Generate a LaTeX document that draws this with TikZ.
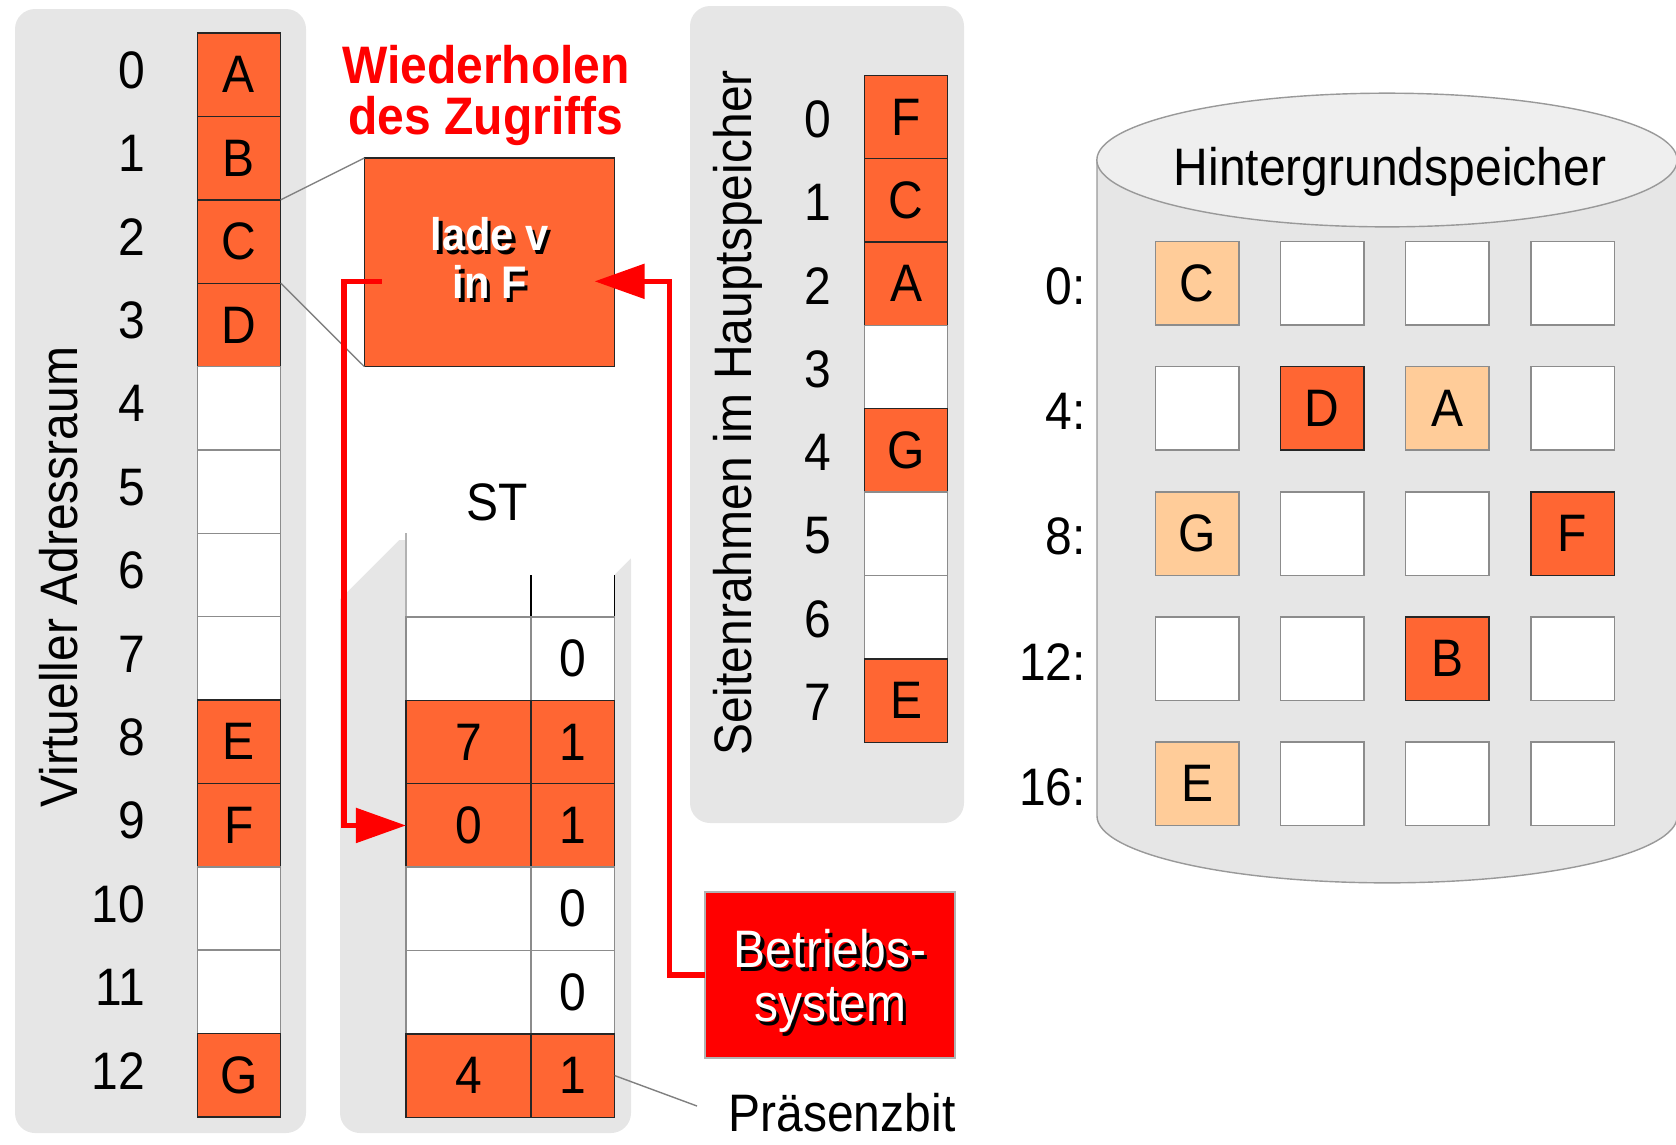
\documentclass[tikz,border=0pt]{standalone}
\usepackage{fontspec}
\setmainfont{Liberation Sans}[FakeStretch=0.91]
\usetikzlibrary{arrows.meta}
\definecolor{orng}{HTML}{FF6633}
\definecolor{lorng}{HTML}{FFCC99}
\definecolor{panelgray}{HTML}{E6E6E6}
\definecolor{topgray}{HTML}{EFEFEF}
\tikzset{every node/.style={inner sep=0pt,outer sep=0pt}}
\tikzset{cell/.style={rectangle,draw=black!45,fill=white,minimum width=8.34mm,minimum height=8.34mm}}
\tikzset{used/.style={cell,draw=black!85,fill=orng}}
\tikzset{disk/.style={cell,fill=lorng}}
\tikzset{panel/.style={fill=panelgray,rounded corners=2mm}}
\tikzset{leader/.style={draw=black!50,line width=0.4pt}}
\tikzset{redarrow/.style={draw=red,line width=1.5pt,-{Triangle[length=5mm,width=3.4mm]}}}
\tikzset{osbox/.style={rectangle,fill=red,draw=black!30,minimum width=2.5cm,minimum height=1.66cm,align=center}}
\newcommand{\shadowed}[1]{\makebox[0pt][l]{\hspace{0.35mm}\raisebox{-0.35mm}{\color{black}#1}}{\color{white}#1}}

\begin{document}
\begin{tikzpicture}[x=0.01cm,y=-0.01cm,font=\fontsize{15}{15.4}\selectfont]
\useasboundingbox (0,0) rectangle (1676,1144);
% panels
\fill[panel] (15,9) rectangle (306,1133);
\fill[panel] (340,540) rectangle (631,1133);
\fill[white] (330,609) -- (406,533) -- (406,617) -- (614,617) -- (614,575) -- (641,548) -- (641,520) -- (330,520) -- cycle;
\fill[panel] (690,6) rectangle (964,823);
% disk
\filldraw[fill=panelgray,draw=black!40] (1097,160) -- (1097,816) arc[start angle=180,end angle=360,x radius=2.9cm,y radius=0.668cm] -- (1677,160) -- cycle;
\filldraw[fill=topgray,draw=black!40] (1387,160) ellipse[x radius=2.9cm,y radius=0.668cm];

% virtueller Adressraum
\node[rotate=90] (va) at (59,577) {Virtueller Adressraum};
\foreach \p/\c/\s in {0/A/used,1/B/used,2/C/used,3/D/used,4/{}/cell,5/{}/cell,6/{}/cell,
    7/{}/cell,8/E/used,9/F/used,10/{}/cell,11/{}/cell,12/G/used} {
  \node[\s] (v\p) at (239,{74.8+83.37*\p}) {\c};
  \node[anchor=east] (vn\p) at (145,{70.3+83.37*\p}) {\p};
}

% Seitentabelle
\node (st) at (497,502) {ST};
\draw[black!30] (406,533) -- (406,617);
\draw (531,575) -- (531,617);
\draw (614.6,575) -- (614.6,617);
\foreach \r/\f/\b/\s in {0/{}/0/cell,1/7/1/used,2/0/1/used,3/{}/0/cell,4/{}/0/cell,5/4/1/used} {
  \node[\s,minimum width=1.25cm] (sa\r) at (468.5,{658.7+83.37*\r}) {\f};
  \node[\s,minimum width=8.36mm] (sb\r) at (572.8,{658.7+83.37*\r}) {\b};
}
\node (pr) at (842,1113) {Präsenzbit};
\coordinate (pb) at (697,1106);
\draw[leader] (sb5.east) -- (pb);

% Hauptspeicher
\node[rotate=90] (sr) at (738,413) {Seitenrahmen im Hauptspeicher};
\foreach \k/\c/\s in {0/F/used,1/C/used,2/A/used,3/{}/cell,4/G/used,5/{}/cell,6/{}/cell,7/E/used} {
  \node[\s] (m\k) at (906,{117+83.37*\k}) {\c};
  \node (mn\k) at (818,{119+83.37*\k}) {\k};
}

% Hintergrundspeicher
\node (hs) at (1390,172) {Hintergrundspeicher};
\foreach \row/\lbl in {0/0,1/4,2/8,3/12,4/16}
  \node[anchor=east] (hl\row) at (1086,{286.5+125.1*\row}) {\lbl:};
\foreach \row/\col/\s/\t in {0/0/disk/C,0/1/cell/{},0/2/cell/{},0/3/cell/{},
    1/0/cell/{},1/1/used/D,1/2/disk/A,1/3/cell/{},
    2/0/disk/G,2/1/cell/{},2/2/cell/{},2/3/used/F,
    3/0/cell/{},3/1/cell/{},3/2/used/B,3/3/cell/{},
    4/0/disk/E,4/1/cell/{},4/2/cell/{},4/3/cell/{}}
  \node[\s] (h\row\col) at ({1197.2+125.1*\col},{283.3+125.1*\row}) {\t};

% Seitenfehler
\node[text=red,font=\fontsize{15}{14.5}\selectfont\bfseries,align=center] (wz) at (486,95) {Wiederholen\\des Zugriffs};
\node[used,minimum width=2.5cm,minimum height=2.086cm,align=center,font=\fontsize{13}{13.6}\selectfont\bfseries] (lade) at (489.5,262.3) {\shadowed{lade v}\\\shadowed{in F}\rule[-2.3pt]{0pt}{2.3pt}};
\node[osbox] (bs) at (830,975) {\rule{0pt}{15.4pt}\shadowed{Betriebs-}\\\shadowed{system}};
\draw[leader] (v2.north east) -- (lade.north west);
\draw[leader] (v3.north east) -- (lade.south west);
\draw[redarrow] ([shift={(1.75mm,-1.9mm)}]lade.west) -| ([xshift=-6.2mm]sa2.west) -- (sa2.west);
\draw[redarrow] (bs.west) -| ([shift={(5.5mm,-1.9mm)}]lade.east) -- ([shift={(-2mm,-1.9mm)}]lade.east);
\end{tikzpicture}
\end{document}
